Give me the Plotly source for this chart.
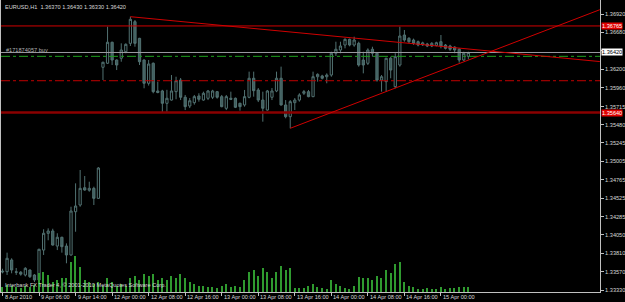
import plotly.graph_objects as go

# ---------------- data ----------------
bar_index = list(range(103))
opens = [1.33580,1.33572,1.33724,1.33570,1.33565,1.33529,1.33594,1.33529,1.33464,1.33853,
         1.34070,1.34101,1.33905,1.34019,1.33905,1.33789,1.34351,1.34438,1.34663,1.34630,
         1.34655,1.34525,1.36228,1.36280,1.36553,1.36322,1.36345,1.36430,1.36539,1.36820,
         1.36604,1.36322,1.36020,1.36280,1.35920,1.35920,1.35760,1.35802,1.35911,1.36062,
         1.35838,1.35725,1.35768,1.35855,1.35802,1.35825,1.35838,1.35911,1.35846,1.35695,
         1.35825,1.35825,1.35760,1.35738,1.35838,1.36085,1.35933,1.35802,1.35672,1.35838,
         1.35920,1.36085,1.35738,1.35586,1.35768,1.35802,1.35890,1.35911,1.35846,1.36105,
         1.36115,1.36105,1.36127,1.36410,1.36452,1.36517,1.36591,1.36517,1.36539,1.36322,
         1.36280,1.36462,1.36410,1.36062,1.36041,1.36345,1.35976,1.36257,1.36647,1.36604,
         1.36582,1.36560,1.36520,1.36530,1.36504,1.36510,1.36560,1.36517,1.36504,1.36490,
         1.36462,1.36322,1.36370]
highs = [1.33610,1.33819,1.33746,1.33620,1.33580,1.33630,1.33600,1.33540,1.33870,1.34123,
         1.34135,1.34130,1.34071,1.34026,1.33940,1.34416,1.34720,1.34893,1.34815,1.34741,
         1.34676,1.34930,1.36300,1.36755,1.36560,1.36330,1.36539,1.36539,1.36885,1.36842,
         1.36610,1.36330,1.36322,1.36290,1.36041,1.35935,1.35935,1.36127,1.36105,1.36088,
         1.35868,1.35828,1.35868,1.35890,1.35911,1.35933,1.35935,1.35920,1.35868,1.35868,
         1.35911,1.35835,1.35768,1.35933,1.36171,1.36171,1.35958,1.35911,1.35933,1.35958,
         1.36171,1.36236,1.35802,1.35802,1.35828,1.35890,1.35933,1.35933,1.36171,1.36149,
         1.36130,1.36149,1.36430,1.36560,1.36560,1.36604,1.36600,1.36625,1.36560,1.36430,
         1.36474,1.36495,1.36420,1.36127,1.36350,1.36366,1.36410,1.36755,1.36712,1.36620,
         1.36600,1.36575,1.36560,1.36545,1.36555,1.36560,1.36647,1.36530,1.36520,1.36500,
         1.36474,1.36430,1.36430]
lows = [1.33550,1.33529,1.33551,1.33530,1.33520,1.33510,1.33490,1.33438,1.33440,1.33789,
        1.33980,1.33910,1.33853,1.33819,1.33681,1.33780,1.34091,1.34416,1.34624,1.34611,
        1.34438,1.34520,1.36062,1.36270,1.36257,1.36192,1.36300,1.36410,1.36504,1.36495,
        1.36257,1.35955,1.35990,1.35890,1.35890,1.35638,1.35650,1.35795,1.35812,1.35802,
        1.35672,1.35698,1.35742,1.35781,1.35794,1.35802,1.35815,1.35820,1.35708,1.35672,
        1.35802,1.35698,1.35664,1.35716,1.35825,1.35846,1.35776,1.35521,1.35665,1.35802,
        1.35905,1.35730,1.35565,1.35435,1.35672,1.35781,1.35868,1.35838,1.35840,1.36041,
        1.36070,1.36020,1.36105,1.36375,1.36410,1.36474,1.36500,1.36495,1.36236,1.36149,
        1.36257,1.36366,1.36041,1.35911,1.35911,1.36085,1.35955,1.36236,1.36560,1.36540,
        1.36520,1.36500,1.36505,1.36490,1.36490,1.36500,1.36474,1.36460,1.36440,1.36410,
        1.36288,1.36310,1.36330]
closes = [1.33570,1.33746,1.33594,1.33565,1.33540,1.33616,1.33507,1.33464,1.33863,1.34071,
          1.34100,1.33918,1.34019,1.33897,1.33789,1.34360,1.34425,1.34655,1.34633,1.34655,
          1.34525,1.34919,1.36293,1.36553,1.36322,1.36257,1.36452,1.36526,1.36851,1.36539,
          1.36300,1.36020,1.36270,1.35911,1.35900,1.35760,1.35825,1.35920,1.36053,1.35838,
          1.35716,1.35793,1.35846,1.35812,1.35890,1.35920,1.35920,1.35838,1.35716,1.35846,
          1.35812,1.35708,1.35716,1.35846,1.36085,1.35924,1.35802,1.35695,1.35920,1.35920,
          1.36085,1.35738,1.35586,1.35781,1.35802,1.35868,1.35911,1.35846,1.36105,1.36136,
          1.36085,1.36127,1.36410,1.36462,1.36504,1.36591,1.36517,1.36582,1.36257,1.36257,
          1.36452,1.36410,1.36062,1.36105,1.36345,1.36192,1.36366,1.36634,1.36582,1.36560,
          1.36539,1.36517,1.36545,1.36504,1.36539,1.36547,1.36504,1.36474,1.36462,1.36452,
          1.36322,1.36410,1.36420]
volumes = [200,280,240,200,160,240,200,280,760,800,
           680,400,480,560,560,1200,1440,1000,480,400,
           320,400,240,560,400,240,320,240,560,640,
           480,720,640,720,480,560,480,640,560,720,
           560,400,320,240,240,200,200,160,240,320,
           200,240,200,480,800,880,640,960,800,560,
           800,1040,880,960,160,160,160,240,320,200,
           160,120,480,320,240,160,120,240,600,560,
           560,480,640,560,880,760,1120,1200,400,240,
           200,120,120,160,120,120,200,120,160,160,
           200,200,200]

time_tick_bars = [0, 8, 16, 24, 32, 40, 48, 56, 64, 72, 80, 88, 96]
time_tick_labels = ["8 Apr 2010", "9 Apr 06:00", "9 Apr 14:00", "12 Apr 00:00", "12 Apr 08:00",
                    "12 Apr 16:00", "13 Apr 00:00", "13 Apr 08:00", "13 Apr 16:00",
                    "14 Apr 00:00", "14 Apr 08:00", "14 Apr 16:00", "15 Apr 00:00"]

price_tick_values = [1.36920, 1.36680, 1.36440, 1.36200, 1.35960, 1.35715, 1.35480, 1.35245,
                     1.35005, 1.34765, 1.34525, 1.34285, 1.34050, 1.33810, 1.33570, 1.33330]
price_tick_labels = ["1.36920", "1.36680", "", "1.36200", "1.35960", "1.35715", "1.35480", "1.35245",
                     "1.35005", "1.34765", "1.34525", "1.34285", "1.34050", "1.33810", "1.33570", "1.33330"]

# horizontal levels
resistance_level = 1.36765
support_level = 1.35640
bid_price = 1.36420
order_price = 1.36370
stop_level = 1.36053

# trend lines: (bar, price) anchor pairs
trend_down_bars = [28, 130.8]
trend_down_prices = [1.36885, 1.36302]
trend_up_bars = [63, 130.8]
trend_up_prices = [1.35435, 1.36976]

header_text = "EURUSD,H1  1.36370 1.36430 1.36330 1.36420"
order_text = "#171874057 buy"
footer_text = "Interbank FX Trader 4, \u00a9 2001-2010 MetaQuotes Software Corp."

# ---------------- figure ----------------
FONT = "Liberation Sans, Arial, sans-serif"
AXIS_COLOR = "#c0c0c0"
TEXT_COLOR = "#d8d8d8"
CANDLE_LINE = "#527272"

fig = go.Figure()

fig.add_trace(go.Bar(
    x=bar_index, y=volumes, yaxis="y2", width=0.28,
    marker=dict(color="#2f9a2f", line=dict(width=0)),
    hoverinfo="skip", showlegend=False,
))

fig.add_trace(go.Candlestick(
    x=bar_index, open=opens, high=highs, low=lows, close=closes,
    increasing=dict(line=dict(color=CANDLE_LINE, width=1), fillcolor="#000000"),
    decreasing=dict(line=dict(color=CANDLE_LINE, width=1), fillcolor="#3f5d5d"),
    whiskerwidth=0, showlegend=False,
))

# horizontal lines
x_lo, x_hi = -0.33, 130.83
fig.add_trace(go.Scatter(x=[x_lo, x_hi], y=[resistance_level]*2, mode="lines",
                         line=dict(color="#d00000", width=1), showlegend=False, hoverinfo="skip"))
fig.add_trace(go.Scatter(x=[x_lo, x_hi], y=[support_level]*2, mode="lines",
                         line=dict(color="#8a0000", width=2.5), showlegend=False, hoverinfo="skip"))
fig.add_trace(go.Scatter(x=[x_lo, x_hi], y=[stop_level]*2, mode="lines",
                         line=dict(color="#c00000", width=1, dash="dashdot"), showlegend=False, hoverinfo="skip"))
fig.add_trace(go.Scatter(x=[x_lo, x_hi], y=[bid_price]*2, mode="lines",
                         line=dict(color="#9a9aa0", width=1), showlegend=False, hoverinfo="skip"))
fig.add_trace(go.Scatter(x=[x_lo, x_hi], y=[order_price]*2, mode="lines",
                         line=dict(color="#1ea01e", width=1, dash="dashdot"), showlegend=False, hoverinfo="skip"))

# trend lines
fig.add_trace(go.Scatter(x=trend_down_bars, y=trend_down_prices, mode="lines",
                         line=dict(color="#d00000", width=1), showlegend=False, hoverinfo="skip"))
fig.add_trace(go.Scatter(x=trend_up_bars, y=trend_up_prices, mode="lines",
                         line=dict(color="#d00000", width=1), showlegend=False, hoverinfo="skip"))

annotations = []
for b, lab in zip(time_tick_bars, time_tick_labels):
    annotations.append(dict(x=b, xref="x", y=0, yref="paper", text=lab, showarrow=False,
                            xanchor="left", yanchor="top", xshift=0, yshift=0,
                            font=dict(family=FONT, size=5.6, color=TEXT_COLOR)))

# price boxes on the axis
for price, txt, bg, fg in [(resistance_level, "1.36765", "#e00000", "#ffffff"),
                           (support_level, "1.35640", "#e00000", "#ffffff"),
                           (bid_price, "1.36420", "#ffffff", "#000000")]:
    annotations.append(dict(x=1, xref="paper", y=price, yref="y", text=txt, showarrow=False,
                            xanchor="left", yanchor="middle", xshift=1, bgcolor=bg, borderpad=0,
                            font=dict(family=FONT, size=5.6, color=fg)))

annotations.append(dict(x=0, xref="paper", y=1, yref="paper", text=header_text, showarrow=False,
                        xanchor="left", yanchor="top", xshift=2, yshift=-2,
                        font=dict(family=FONT, size=5.6, color=TEXT_COLOR)))
annotations.append(dict(x=0, xref="paper", y=order_price, yref="y", text=order_text, showarrow=False,
                        xanchor="left", yanchor="bottom", xshift=3, yshift=1,
                        font=dict(family=FONT, size=5.6, color="#b0b0b0")))
annotations.append(dict(x=0, xref="paper", y=0, yref="paper", text=footer_text, showarrow=False,
                        xanchor="left", yanchor="bottom", xshift=2, yshift=2,
                        font=dict(family=FONT, size=5.6, color=TEXT_COLOR)))

fig.update_layout(
    width=625, height=302,
    margin=dict(l=1, r=22, t=0, b=10),
    paper_bgcolor="#000000", plot_bgcolor="#000000",
    showlegend=False,
    xaxis=dict(range=[x_lo, x_hi], showgrid=False, zeroline=False, rangeslider=dict(visible=False),
               tickvals=time_tick_bars, showticklabels=False, ticks="outside", ticklen=3,
               tickcolor=AXIS_COLOR, showline=True, linecolor=AXIS_COLOR, linewidth=1,
               fixedrange=True),
    yaxis=dict(range=[1.33308, 1.37102], side="right", showgrid=False, zeroline=False,
               tickvals=price_tick_values, ticktext=price_tick_labels,
               ticks="outside", ticklen=3, tickcolor=AXIS_COLOR,
               tickfont=dict(family=FONT, size=5.6, color=TEXT_COLOR),
               showline=True, linecolor=AXIS_COLOR, linewidth=1, mirror=True),
    yaxis2=dict(range=[0, 11600], overlaying="y", visible=False, showgrid=False),
    annotations=annotations,
    bargap=0,
)

fig.write_html("out.html")
